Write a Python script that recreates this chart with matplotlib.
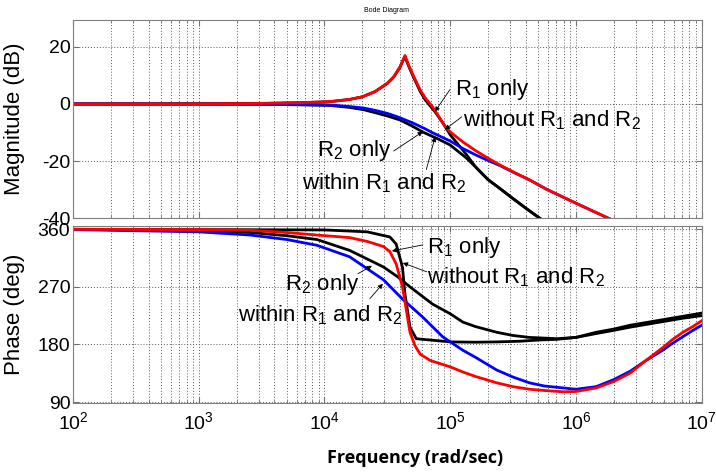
import matplotlib.pyplot as plt
import numpy as np
from matplotlib.ticker import LogLocator, NullFormatter

plt.rcParams['font.family'] = ['Liberation Sans', 'DejaVu Sans']
plt.rcParams['mathtext.default'] = 'regular'
plt.rcParams['axes.unicode_minus'] = False

# magnitude (dB), frequencies given as log10(rad/sec)
lw_mag_red = [2.0, 3.0, 3.5, 3.8, 4.04, 4.2, 4.3, 4.4, 4.5, 4.55, 4.6, 4.62, 4.64, 4.67, 4.7,
              4.76, 4.8, 4.86, 4.96, 5.0, 5.1, 5.2, 5.3, 5.4, 5.5, 5.63, 5.77, 6.0, 6.24, 6.5]
mag_red = [0, 0.05, 0.2, 0.45, 0.8, 1.6, 2.5, 4.3, 7.3, 9.5, 13.0, 15.0, 17.0, 13.5, 10.6,
           5.0, 2.2, -1.0, -8.0, -9.8, -13.3, -16.3, -19.0, -21.5, -23.8, -26.6, -30.0, -34.8, -39.7, -44.8]

lw_mag_blue = [2.0, 3.0, 3.5, 3.8, 4.04, 4.2, 4.31, 4.4, 4.5, 4.58, 4.7, 4.8, 4.86, 5.0, 5.1,
               5.2, 5.3, 5.4, 5.5, 5.63, 5.77, 6.0, 6.24, 6.5]
mag_blue = [0, -0.02, -0.08, -0.2, -0.35, -0.9, -1.4, -2.2, -3.3, -4.5, -6.6, -8.7, -10.1, -13.0, -15.6,
            -17.8, -19.8, -21.7, -23.9, -26.6, -30.0, -34.8, -39.7, -44.8]

lw_mag_blk_a = [2.0, 3.0, 3.5, 3.8, 4.04, 4.2, 4.3, 4.4, 4.5, 4.55, 4.6, 4.62, 4.64, 4.67, 4.7,
                4.76, 4.8, 4.88, 4.95, 5.0, 5.13, 5.2, 5.3, 5.4, 5.5, 5.6, 5.71, 5.9]
mag_blk_a = [0, 0.05, 0.2, 0.45, 0.8, 1.6, 2.5, 4.3, 7.2, 9.4, 12.8, 14.8, 16.6, 13.2, 10.2,
             4.5, 1.5, -2.8, -7.2, -10.8, -17.8, -22.0, -26.5, -29.8, -33.2, -36.5, -40.0, -46.0]

lw_mag_blk_b = [2.0, 3.0, 3.5, 3.8, 4.04, 4.2, 4.31, 4.4, 4.5, 4.6, 4.7, 4.78, 4.9, 5.0, 5.13,
                5.2, 5.3, 5.4, 5.5, 5.6, 5.71, 5.9]
mag_blk_b = [0, -0.03, -0.1, -0.3, -0.5, -1.2, -2.0, -3.0, -4.2, -5.6, -7.8, -9.8, -12.2, -14.4, -19.0,
             -22.0, -26.5, -29.8, -33.2, -36.5, -40.0, -46.0]

# phase (deg)
lw_ph_red = [2.0, 3.0, 3.41, 3.7, 3.94, 4.2, 4.34, 4.47, 4.52, 4.57, 4.62, 4.65, 4.68, 4.72, 4.76,
             4.84, 5.0, 5.1, 5.2, 5.37, 5.5, 5.63, 5.75, 5.9, 6.0, 6.16, 6.3, 6.43, 6.55, 6.69,
             6.77, 6.85, 6.93, 7.0]
ph_red = [360, 359.5, 358.5, 355, 351, 347, 341, 333, 325, 306, 270, 235, 199, 178, 165,
          155, 145, 137, 130, 120, 114, 110, 108, 106, 106.5, 112, 122, 135, 154, 175,
          188, 199, 208, 217]

lw_ph_blue = [2.0, 3.0, 3.41, 3.7, 3.94, 4.2, 4.47, 4.62, 4.78, 4.94, 5.1, 5.2, 5.37, 5.5, 5.63,
              5.75, 5.9, 6.0, 6.16, 6.3, 6.43, 6.55, 6.69, 6.77, 6.85, 6.93, 7.0]
ph_blue = [359.5, 356, 351, 344, 335, 317, 281, 251, 223, 192, 171, 160, 140, 129, 120,
           115, 112, 110, 114, 125, 138, 154, 171, 182, 192, 202, 210]

lw_ph_blk_a = [2.0, 4.0, 4.34, 4.52, 4.57, 4.62, 4.64, 4.68, 4.73, 4.78, 4.84, 5.0, 5.2, 5.37,
               5.55, 5.71, 5.85, 6.0, 6.16, 6.3, 6.43, 6.7, 6.85, 7.0]
ph_blk_a = [360, 359, 356, 348, 337, 301, 259, 207, 189, 188, 187, 184, 183.5, 184,
            185, 187, 188, 191, 197, 202, 207, 216, 221, 225]

lw_ph_blk_b = [2.0, 3.0, 3.41, 3.7, 3.94, 4.2, 4.47, 4.58, 4.68, 4.86, 5.0, 5.1, 5.2, 5.37,
               5.5, 5.63, 5.85, 6.0, 6.16, 6.3, 6.43, 6.7, 6.85, 7.0]
ph_blk_b = [360, 358, 355, 350, 344, 327, 301, 286, 270, 243, 228, 215, 208, 199,
            194, 191, 189, 191, 199, 204, 210, 219, 224, 229]


def w(lw):
    return 10.0 ** np.array(lw)


fig = plt.figure(figsize=(7.16, 4.73), dpi=100)
ax1 = fig.add_axes([0.102, 0.539, 0.878, 0.419])
ax2 = fig.add_axes([0.102, 0.148, 0.878, 0.374])

for ax in (ax1, ax2):
    ax.set_xscale('log')
    ax.set_xlim(1e2, 1e7)
    ax.xaxis.set_major_locator(LogLocator(base=10, numticks=10))
    ax.xaxis.set_minor_locator(LogLocator(base=10, subs=np.arange(2, 10), numticks=10))
    ax.xaxis.set_minor_formatter(NullFormatter())
    ax.grid(True, which='both', axis='x', linestyle=(0, (1, 2)), color='0.35', lw=0.7)
    ax.grid(True, which='major', axis='y', linestyle=(0, (1, 2)), color='0.35', lw=0.7)
    ax.tick_params(which='both', direction='in', top=True, right=True, color='0.45',
                   labelsize=14, pad=2)
    ax.tick_params(which='major', length=4)
    ax.tick_params(which='minor', length=2)
    for s in ax.spines.values():
        s.set_color('0.5')
        s.set_linewidth(0.8)

ax1.plot(w(lw_mag_blk_b), mag_blk_b, color='k', lw=2)
ax1.plot(w(lw_mag_blk_a), mag_blk_a, color='k', lw=2)
ax1.plot(w(lw_mag_blue), mag_blue, color='b', lw=2)
ax1.plot(w(lw_mag_red), mag_red, color='r', lw=2)
ax1.set_ylim(-40, 29.5)
ax1.set_yticks([-40, -20, 0, 20])
ax1.tick_params(labelbottom=False)
ax1.set_ylabel('Magnitude (dB)', fontsize=16)
ax1.yaxis.set_label_coords(-0.076, 0.5)

ax2.plot(w(lw_ph_blk_b), ph_blk_b, color='k', lw=2)
ax2.plot(w(lw_ph_blk_a), ph_blk_a, color='k', lw=2)
ax2.plot(w(lw_ph_blue), ph_blue, color='b', lw=2)
ax2.plot(w(lw_ph_red), ph_red, color='r', lw=2)
ax2.set_ylim(88.5, 365)
ax2.set_yticks([90, 180, 270, 360])
ax2.tick_params(axis='x', pad=6)
ax2.set_ylabel('Phase (deg)', fontsize=16)
ax2.yaxis.set_label_coords(-0.076, 0.5)

arrow = dict(arrowstyle='-|>', lw=0.6, color='k', mutation_scale=7, shrinkA=0, shrinkB=0)

# magnitude annotations: (text, text x, text y, tail, head)
mag_notes = [
    ('R$_1$ only', 5.037, 3.3, (4.997, 5.0), (4.878, -2.7)),
    ('without R$_1$ and R$_2$', 5.10, -7.9, (5.092, -4.5), (4.957, -9.0)),
    ('R$_2$ only', 3.94, -18.1, (4.55, -16.5), (4.782, -9.7)),
    ('within R$_1$ and R$_2$', 3.82, -30.0, (4.81, -23.0), (4.88, -11.5)),
]
for txt, tx, ty, tail, head in mag_notes:
    ax1.text(10 ** tx, ty, txt, fontsize=16, va='baseline', ha='left')
    ax1.annotate('', xy=(10 ** head[0], head[1]), xytext=(10 ** tail[0], tail[1]), arrowprops=arrow)

ph_notes = [
    ('R$_1$ only', 4.814, 323, (4.782, 335.6), (4.536, 326)),
    ('without R$_1$ and R$_2$', 4.814, 276, (4.814, 293.5), (4.623, 307.5)),
    ('R$_2$ only', 3.685, 265.5, (4.266, 290.6), (4.377, 303)),
    ('within R$_1$ and R$_2$', 3.31, 216, (4.361, 251.6), (4.464, 275)),
]
for txt, tx, ty, tail, head in ph_notes:
    ax2.text(10 ** tx, ty, txt, fontsize=16, va='baseline', ha='left')
    ax2.annotate('', xy=(10 ** head[0], head[1]), xytext=(10 ** tail[0], tail[1]), arrowprops=arrow)

fig.text(0.54, 0.978, 'Bode Diagram', fontsize=5, ha='center', va='center')
fig.text(0.58, 0.032, 'Frequency (rad/sec)', fontsize=13, fontweight='bold',
         family='Open Sans', ha='center', va='center')

fig.savefig('out.png', dpi=100)
